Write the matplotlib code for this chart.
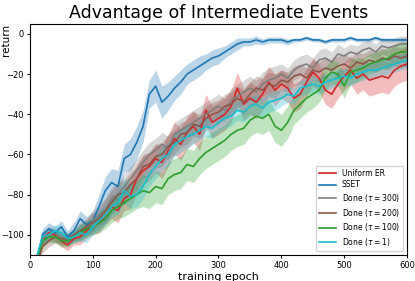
import matplotlib
matplotlib.use("Agg")
import matplotlib.pyplot as plt
import numpy as np

EPOCHS = list(range(0, 601, 10))

SSET = [-120, -115, -100, -97, -99, -96, -101, -98, -92, -95,
        -93, -86, -78, -74, -76, -62, -60, -54, -46, -30,
        -26, -34, -31, -27, -24, -20, -18, -16, -14, -12,
        -11, -9, -7, -5, -4, -4, -3, -4, -3, -3,
        -3, -4, -3, -3, -2, -3, -3, -4, -3, -3,
        -3, -2, -3, -3, -3, -2, -3, -3, -3, -3, -3]
SSET_SD = [2, 3, 3, 3, 3, 3, 3, 4, 4, 4,
           5, 6, 7, 7, 8, 7, 8, 8, 8, 7,
           8, 8, 7, 6, 6, 5, 5, 5, 4, 4,
           4, 3, 3, 3, 2, 2, 2, 1.5, 1.5, 1.5,
           1.5, 1.5, 1, 1, 1, 1, 1, 1, 1, 1,
           1, 1, 1, 1, 1, 1, 1, 1, 1, 1, 1]

UNIFORM = [-120, -114, -102, -99, -100, -103, -105, -102, -101, -98,
           -96, -94, -90, -86, -88, -82, -80, -72, -68, -66,
           -62, -64, -58, -52, -55, -49, -46, -50, -38, -44,
           -42, -40, -36, -27, -35, -32, -34, -30, -24, -28,
           -25, -27, -32, -30, -24, -19, -22, -28, -30, -25,
           -21, -18, -22, -20, -23, -22, -21, -22, -18, -16, -15]
UNIFORM_SD = [2, 3, 3, 3, 3, 3, 3, 3, 4, 4,
              4, 5, 5, 6, 6, 6, 7, 7, 7, 7,
              7, 8, 8, 8, 8, 8, 8, 8, 8, 8,
              8, 8, 8, 8, 8, 8, 8, 8, 8, 8,
              7, 7, 7, 7, 7, 7, 7, 7, 7, 7,
              7, 7, 8, 8, 8, 8, 8, 8, 8, 8, 8]

DONE_300 = [-120, -114, -103, -100, -101, -101, -103, -100, -99, -97,
            -93, -90, -88, -82, -80, -76, -72, -68, -64, -60,
            -58, -55, -57, -50, -48, -46, -44, -42, -40, -38,
            -36, -38, -33, -31, -29, -27, -29, -25, -23, -22,
            -20, -22, -18, -16, -15, -17, -13, -12, -14, -10,
            -11, -9, -10, -8, -7, -9, -6, -7, -6, -5, -5]
DONE_300_SD = [2, 3, 3, 3, 3, 3, 3, 3, 4, 4,
               5, 5, 6, 6, 6, 6, 6, 6, 6, 6,
               6, 6, 6, 6, 6, 6, 6, 6, 6, 6,
               6, 6, 6, 6, 6, 6, 6, 6, 6, 6,
               5, 5, 5, 5, 5, 5, 5, 5, 5, 5,
               4, 4, 4, 4, 4, 4, 4, 4, 4, 4, 4]

DONE_200 = [-122, -116, -106, -103, -101, -102, -102, -100, -98, -96,
            -94, -92, -88, -84, -80, -79, -75, -72, -66, -65,
            -61, -60, -56, -54, -50, -49, -45, -46, -42, -40,
            -39, -36, -35, -32, -34, -30, -27, -28, -25, -26,
            -23, -24, -21, -20, -22, -18, -19, -17, -18, -16,
            -15, -17, -14, -15, -13, -14, -12, -13, -11, -12, -11]
DONE_200_SD = [2, 3, 3, 3, 3, 3, 3, 3, 4, 4,
               5, 5, 6, 6, 6, 6, 6, 6, 6, 6,
               6, 6, 6, 6, 6, 6, 6, 6, 6, 6,
               6, 6, 6, 6, 6, 6, 6, 6, 6, 6,
               5, 5, 5, 5, 5, 5, 5, 5, 5, 5,
               5, 5, 5, 5, 5, 5, 5, 5, 5, 5, 5]

DONE_100 = [-120, -114, -103, -101, -101, -103, -103, -101, -99, -97,
            -96, -94, -92, -88, -86, -84, -82, -80, -78, -79,
            -76, -77, -72, -70, -69, -65, -66, -62, -59, -57,
            -55, -53, -50, -48, -47, -43, -41, -42, -40, -46,
            -48, -44, -38, -35, -32, -30, -28, -22, -19, -20,
            -26, -19, -18, -17, -15, -14, -13, -12, -10, -9, -9]
DONE_100_SD = [2, 3, 3, 3, 3, 3, 3, 3, 4, 4,
               4, 5, 5, 6, 6, 7, 7, 7, 8, 8,
               8, 8, 8, 8, 8, 8, 8, 8, 8, 8,
               8, 8, 8, 8, 8, 8, 8, 8, 8, 8,
               8, 8, 7, 7, 7, 7, 6, 6, 6, 6,
               6, 6, 6, 5, 5, 5, 5, 5, 5, 5, 5]

DONE_1 = [-120, -112, -101, -100, -98, -99, -102, -101, -99, -100,
          -96, -93, -90, -86, -84, -78, -81, -80, -76, -70,
          -66, -62, -60, -55, -53, -51, -50, -48, -46, -47,
          -44, -42, -41, -38, -39, -36, -35, -37, -34, -33,
          -32, -30, -31, -27, -26, -25, -26, -24, -23, -22,
          -21, -22, -20, -19, -18, -18, -17, -16, -15, -14, -13]
DONE_1_SD = [2, 3, 3, 3, 3, 3, 3, 3, 4, 4,
             4, 5, 5, 5, 6, 6, 6, 6, 6, 6,
             6, 6, 6, 6, 6, 6, 5, 5, 5, 5,
             5, 5, 5, 5, 5, 5, 5, 5, 5, 5,
             4, 4, 4, 4, 4, 4, 4, 4, 4, 4,
             4, 4, 4, 4, 4, 4, 4, 4, 4, 4, 4]

SERIES = [
    ("Uniform ER", UNIFORM, UNIFORM_SD, "tab:red"),
    ("SSET", SSET, SSET_SD, "tab:blue"),
    (r"Done ($\tau=300$)", DONE_300, DONE_300_SD, "tab:gray"),
    (r"Done ($\tau=200$)", DONE_200, DONE_200_SD, "tab:brown"),
    (r"Done ($\tau=100$)", DONE_100, DONE_100_SD, "tab:green"),
    (r"Done ($\tau=1$)", DONE_1, DONE_1_SD, "tab:cyan"),
]


def main():
    fig = plt.figure(figsize=(4.15, 2.81), dpi=100)
    ax = fig.add_axes([0.072, 0.093, 0.909, 0.822])
    x = np.array(EPOCHS)
    for label, mean, sd, color in SERIES:
        mean = np.array(mean, dtype=float)
        sd = np.array(sd, dtype=float)
        ax.fill_between(x, mean - sd, mean + sd, color=color, alpha=0.3,
                        linewidth=0)
        ax.plot(x, mean, color=color, linewidth=1.2, label=label)
    ax.set_xlim(0, 600)
    ax.set_ylim(-110, 5)
    ax.set_xticks([0, 100, 200, 300, 400, 500, 600])
    ax.set_yticks([0, -20, -40, -60, -80, -100])
    ax.tick_params(labelsize=6, length=2.5, pad=2)
    ax.set_xlabel("training epoch", fontsize=8, labelpad=1)
    ax.set_ylabel("return", fontsize=7.5, va="center")
    ax.yaxis.set_label_coords(-0.062, 0.93)
    ax.set_title("Advantage of Intermediate Events", fontsize=12.5, pad=4)
    ax.legend(loc="lower right", fontsize=5.5, handlelength=2.2,
              borderaxespad=0.5, labelspacing=0.35)
    fig.savefig("out.png", dpi=100)
    plt.close(fig)


if __name__ == "__main__":
    main()
